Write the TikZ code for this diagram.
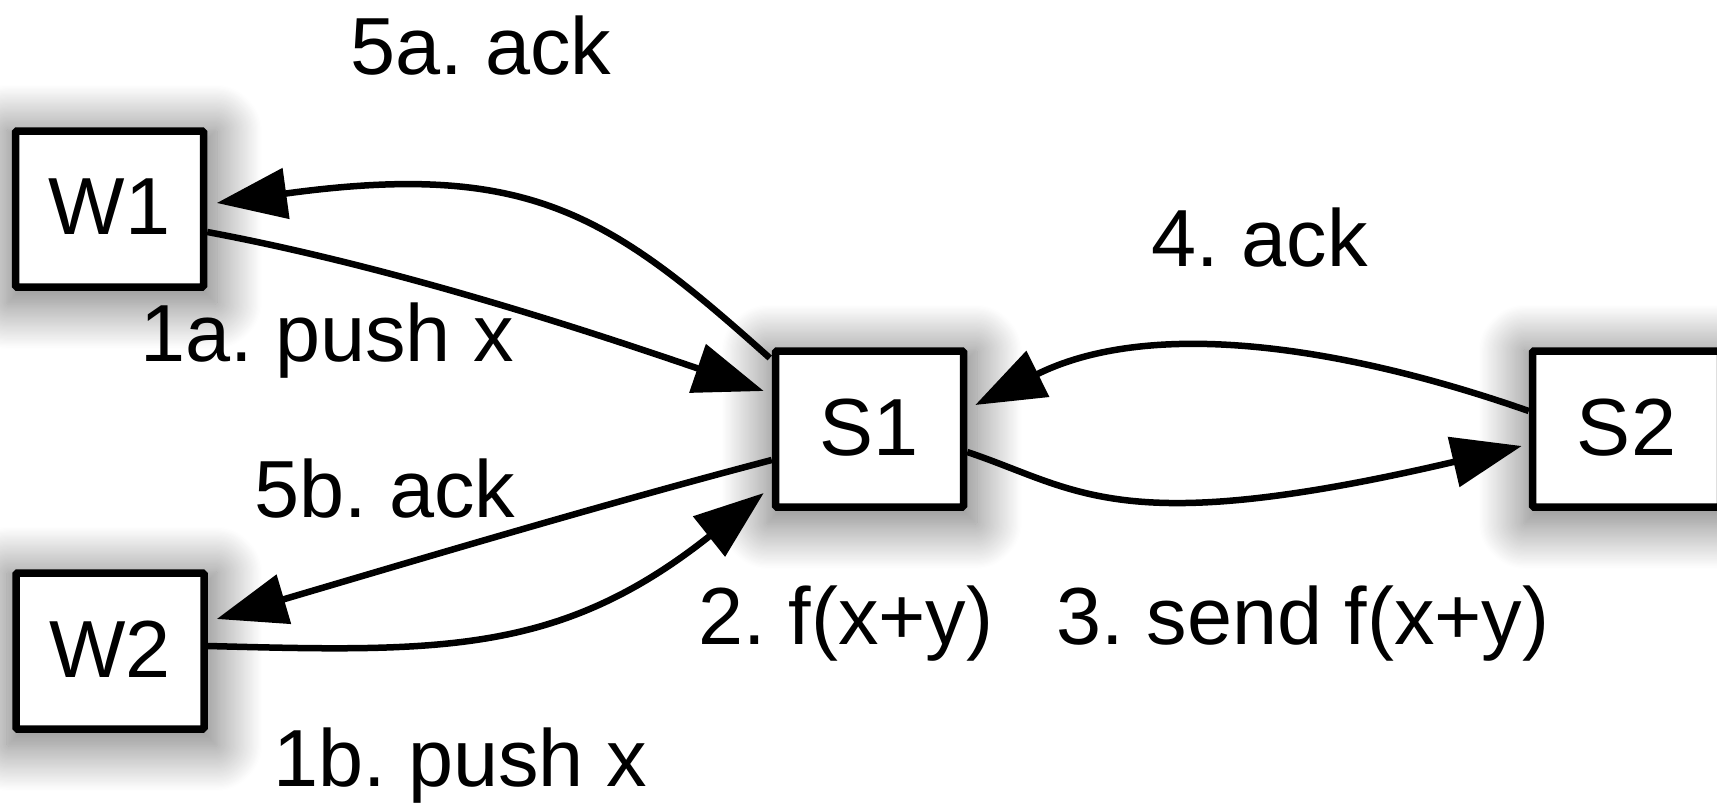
\documentclass[tikz,border=0pt]{standalone}
\usepackage{fontspec}
\setmainfont{Liberation Sans}
\usetikzlibrary{arrows.meta,calc,shadows.blur}
\begin{document}
\frenchspacing
\begin{tikzpicture}[x=1pt,y=-1pt,
  lbl/.style={font=\fontsize{81}{97}\selectfont, inner sep=0pt, anchor=base},
  box/.style={draw, line width=7.5pt, fill=white, minimum width=188pt, minimum height=156pt,
    rounded corners=1.5pt, inner sep=0pt, font=\fontsize{81}{97}\selectfont,
    blur shadow={shadow xshift=2pt, shadow yshift=-7pt, shadow scale=1.12, shadow blur radius=40pt,
      shadow blur steps=40, shadow opacity=55}},
  conn/.style={line width=6.5pt, -{Triangle[length=70pt,width=50pt]}}]
\useasboundingbox (0,0) rectangle (1717,803);
\node[box] (W1) at (109.5,209) {\raisebox{4pt}{W1}};
\node[box] (W2) at (110,651) {\raisebox{4pt}{W2}};
\node[box] (S1) at (869.5,429) {\raisebox{4pt}{S1}};
\node[box] (S2) at (1626.5,429) {\raisebox{4pt}{S2}};

% endpoints
\coordinate (a1s) at ($(W1.east)+(0,23)$);
\coordinate (a1e) at ($(S1.west)+(-8,-38)$);
\coordinate (a5s) at ($(S1.west)+(-2,-71)$);
\coordinate (a5e) at ($(W1.east)+(9.5,-6)$);
\coordinate (b5s) at ($(S1.west)+(0,31)$);
\coordinate (b5e) at ($(W2.east)+(9,-32)$);
\coordinate (b1s) at ($(W2.east)+(0,-5)$);
\coordinate (b1e) at ($(S1.west)+(-8,64)$);
\coordinate (c4s) at ($(S2.west)+(0,-18)$);
\coordinate (c4e) at ($(S1.east)+(8,-24)$);
\coordinate (c3s) at ($(S1.east)+(0,23)$);
\coordinate (c3e) at ($(S2.west)+(-7,17)$);

\draw[conn] (a1s) .. controls (400,268) and (600,335) .. (a1e);
\draw[conn] (a5s) .. controls (610,215) and (530,160) .. (a5e);
\draw[conn] (b5s) .. controls (600,505) and (400,565) .. (b5e);
\draw[conn] (b1s) .. controls (440,652) and (560,655) .. (b1e);
\draw[conn] (c4s) .. controls (1340,345) and (1150,318) .. (c4e);
\draw[conn] (c3s) .. controls (1080,490) and (1120,540) .. (c3e);

\node[lbl] (l5a) at (481,74) {5a. ack};
\node[lbl] (l1a) at (327,361) {1a. push x};
\node[lbl] (l4) at (1260,266) {4. ack};
\node[lbl] (l5b) at (385,517) {5b. ack};
\node[lbl] (l2) at (846,644) {2. f(x+y)};
\node[lbl] (l3) at (1303,644) {3. send f(x+y)};
\node[lbl] (l1b) at (460,786) {1b. push x};
\end{tikzpicture}
\end{document}
